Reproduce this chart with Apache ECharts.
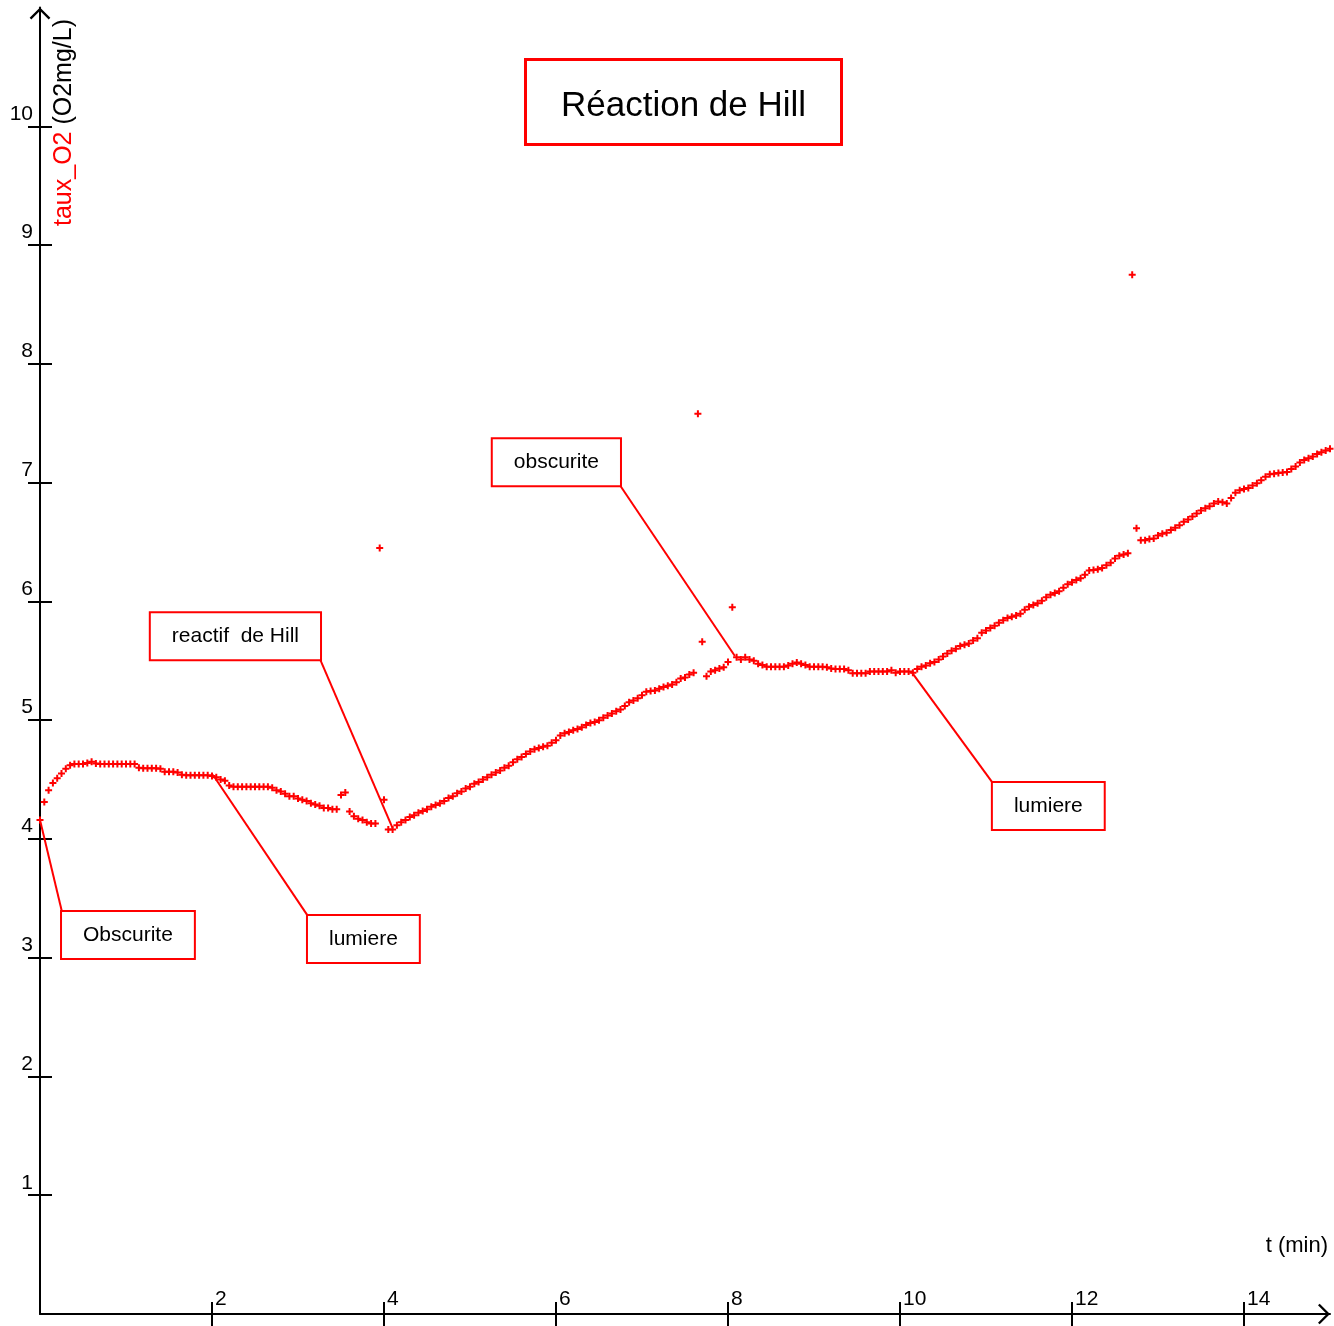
<!DOCTYPE html>
<html>
<head>
<meta charset="utf-8">
<title>Réaction de Hill</title>
<script src="https://cdn.jsdelivr.net/npm/echarts@6/dist/echarts.min.js"></script>
<style>
  html, body { margin: 0; padding: 0; background: #ffffff; }
  #chart { width: 1334px; height: 1326px; }
</style>
</head>
<body>
<div id="chart"></div>
<script>
// Oxygen probe record, one sample every 3 s (0.05 min), from t = 0 to t = 15 min
const sampleStart = 0;
const sampleStep = 0.05;

// O2 level in mg/L, one row per minute (20 samples each)
const tauxO2 = [
  4.16, 4.31, 4.41, 4.47, 4.51, 4.55, 4.59, 4.62, 4.63, 4.63, 4.63, 4.64, 4.65, 4.635, 4.63, 4.63, 4.63, 4.63, 4.63, 4.63,
  4.63, 4.63, 4.63, 4.60, 4.595, 4.595, 4.595, 4.595, 4.59, 4.565, 4.565, 4.565, 4.56, 4.54, 4.537, 4.537, 4.537, 4.537, 4.537, 4.537,
  4.53, 4.52, 4.50, 4.49, 4.45, 4.44, 4.44, 4.44, 4.44, 4.44, 4.44, 4.44, 4.44, 4.44, 4.43, 4.41, 4.40, 4.38, 4.36, 4.36,
  4.34, 4.33, 4.32, 4.30, 4.29, 4.28, 4.26, 4.26, 4.25, 4.25, 4.37, 4.39, 4.23, 4.19, 4.17, 4.16, 4.14, 4.13, 4.13, 6.45,
  4.33, 4.08, 4.08, 4.115, 4.14, 4.16, 4.185, 4.20, 4.22, 4.235, 4.25, 4.27, 4.285, 4.30, 4.32, 4.345, 4.36, 4.385, 4.40, 4.425,
  4.44, 4.465, 4.48, 4.50, 4.52, 4.54, 4.56, 4.575, 4.60, 4.615, 4.645, 4.67, 4.69, 4.715, 4.735, 4.755, 4.765, 4.775, 4.785, 4.81,
  4.83, 4.87, 4.89, 4.90, 4.915, 4.925, 4.94, 4.96, 4.975, 4.985, 5.00, 5.02, 5.04, 5.055, 5.075, 5.09, 5.12, 5.15, 5.165, 5.185,
  5.21, 5.24, 5.245, 5.25, 5.265, 5.28, 5.29, 5.30, 5.32, 5.35, 5.36, 5.385, 5.40, 7.58, 5.66, 5.37, 5.41, 5.42, 5.435, 5.445,
  5.49, 5.95, 5.53, 5.51, 5.53, 5.51, 5.50, 5.475, 5.465, 5.45, 5.45, 5.45, 5.45, 5.45, 5.46, 5.475, 5.485, 5.475, 5.465, 5.45,
  5.45, 5.45, 5.45, 5.445, 5.435, 5.43, 5.43, 5.43, 5.42, 5.395, 5.395, 5.395, 5.395, 5.41, 5.41, 5.41, 5.41, 5.41, 5.42, 5.40,
  5.41, 5.41, 5.41, 5.40, 5.43, 5.45, 5.46, 5.48, 5.49, 5.51, 5.535, 5.56, 5.585, 5.60, 5.625, 5.635, 5.645, 5.67, 5.69, 5.735,
  5.755, 5.775, 5.795, 5.82, 5.84, 5.86, 5.87, 5.88, 5.895, 5.93, 5.955, 5.97, 5.985, 6.005, 6.035, 6.055, 6.07, 6.085, 6.115, 6.145,
  6.16, 6.18, 6.195, 6.225, 6.26, 6.265, 6.27, 6.28, 6.305, 6.325, 6.36, 6.385, 6.395, 6.405, 8.75, 6.615, 6.515, 6.515, 6.525, 6.53,
  6.555, 6.57, 6.577, 6.60, 6.62, 6.64, 6.67, 6.69, 6.715, 6.74, 6.765, 6.785, 6.80, 6.825, 6.84, 6.835, 6.825, 6.87, 6.915, 6.935,
  6.945, 6.955, 6.975, 6.995, 7.02, 7.05, 7.07, 7.075, 7.08, 7.085, 7.09, 7.115, 7.135, 7.17, 7.19, 7.205, 7.22, 7.24, 7.255, 7.27,
  7.285
];

// Tick values on each axis
const xTickValues = [2, 4, 6, 8, 10, 12, 14];
const yTickValues = [1, 2, 3, 4, 5, 6, 7, 8, 9, 10];

// Annotations: caption, point it refers to, and the box corner the leader line reaches
const noteTexts = ['Obscurite', 'lumiere', 'reactif  de Hill', 'obscurite', 'lumiere'];
const noteTargets = [[0, 4.16], [2.01, 4.54], [4.10, 4.09], [8.08, 5.54], [10.14, 5.40]];
const noteCorners = [[0.256, 3.384], [3.116, 3.35], [3.256, 5.513], [6.744, 6.978], [11.08, 4.47]];
const noteCornerSide = ['topLeft', 'topLeft', 'bottomRight', 'bottomRight', 'topLeft'];

const FONT = '"Liberation Sans", Arial, Helvetica, sans-serif';
const RED = '#ff0000';

// open chevron used as axis arrow head (tip pointing up in symbol space)
const CHEVRON = 'path://M0,10 L10,0 L20,10 L18.4,11.6 L10,3.2 L1.6,11.6 Z';
// plus-sign marker for measurements
const PLUS = 'path://M2.5,0 L4.5,0 L4.5,2.5 L7,2.5 L7,4.5 L4.5,4.5 L4.5,7 L2.5,7 L2.5,4.5 L0,4.5 L0,2.5 L2.5,2.5 Z';

const points = tauxO2.map((v, i) => [+(sampleStart + i * sampleStep).toFixed(2), v]);

const noteLines = noteTargets.map((p, i) => [{ coord: p }, { coord: noteCorners[i] }]);
const noteBoxes = noteCorners.map((c, i) => ({
  value: c,
  label: {
    formatter: noteTexts[i],
    position: [0, 0],
    align: noteCornerSide[i] === 'topLeft' ? 'left' : 'right',
    verticalAlign: noteCornerSide[i] === 'topLeft' ? 'top' : 'bottom'
  }
}));

const axisLineStyle = { color: '#000', width: 2 };

const chart = echarts.init(document.getElementById('chart'), null, { renderer: 'canvas' });

chart.setOption({
  animation: false,
  backgroundColor: '#ffffff',
  textStyle: { fontFamily: FONT },
  title: {
    text: 'Réaction de Hill',
    left: 525,
    top: 59,
    padding: [28, 36, 20, 36],
    borderColor: RED,
    borderWidth: 3,
    textStyle: { fontFamily: FONT, fontSize: 35, fontWeight: 'normal', color: '#000', lineHeight: 38 }
  },
  grid: { left: 40, right: 4, top: 7.5, bottom: 12, containLabel: false },
  xAxis: [
    {
      type: 'value', min: 0, max: 15, position: 'bottom',
      axisLine: { show: true, onZero: false, lineStyle: axisLineStyle, symbol: ['none', CHEVRON], symbolSize: [22, 12], symbolOffset: [0, -6] },
      axisTick: { show: true, customValues: xTickValues, length: 12, lineStyle: axisLineStyle },
      axisLabel: { show: true, customValues: xTickValues, inside: true, margin: 4, align: 'left', verticalAlign: 'bottom', lineHeight: 21, padding: [0, 0, 0, 3], fontSize: 21, color: '#000', fontFamily: FONT },
      splitLine: { show: false }
    },
    {
      type: 'value', min: 0, max: 15, position: 'bottom',
      axisLine: { show: false, onZero: false },
      axisTick: { show: true, inside: true, customValues: xTickValues, length: 12, lineStyle: axisLineStyle },
      axisLabel: { show: false },
      splitLine: { show: false }
    }
  ],
  yAxis: [
    {
      type: 'value', min: 0, max: 11, position: 'left',
      axisLine: { show: true, onZero: false, lineStyle: axisLineStyle, symbol: ['none', CHEVRON], symbolSize: [22, 12], symbolOffset: [0, -6] },
      axisTick: { show: true, customValues: yTickValues, length: 12, lineStyle: axisLineStyle },
      axisLabel: { show: true, customValues: yTickValues, margin: 7, verticalAlign: 'bottom', lineHeight: 21, padding: [0, 0, 2, 0], fontSize: 21, color: '#000', fontFamily: FONT },
      splitLine: { show: false }
    },
    {
      type: 'value', min: 0, max: 11, position: 'left',
      axisLine: { show: false, onZero: false },
      axisTick: { show: true, inside: true, customValues: yTickValues, length: 12, lineStyle: axisLineStyle },
      axisLabel: { show: false },
      splitLine: { show: false }
    }
  ],
  graphic: [
    {
      type: 'text',
      x: 64,
      y: 19,
      rotation: Math.PI / 2,
      style: {
        text: '{r|taux_O2} (O2mg/L)',
        fill: '#000',
        fontSize: 25,
        fontFamily: FONT,
        align: 'right',
        verticalAlign: 'middle',
        rich: { r: { fill: RED, fontSize: 25, fontFamily: FONT } }
      }
    },
    {
      type: 'text',
      right: 6,
      top: 1235,
      style: { text: 't (min)', fill: '#000', fontSize: 22, fontFamily: FONT }
    }
  ],
  series: [
    {
      name: 'taux_O2',
      type: 'scatter',
      xAxisIndex: 0,
      yAxisIndex: 0,
      data: points,
      symbol: PLUS,
      symbolSize: 7,
      itemStyle: { color: RED, opacity: 1 },
      silent: true,
      z: 3,
      markLine: {
        silent: true,
        symbol: 'none',
        label: { show: false },
        lineStyle: { color: RED, width: 2, type: 'solid', opacity: 1 },
        emphasis: { disabled: true },
        data: noteLines
      }
    },
    {
      name: 'notes',
      type: 'scatter',
      xAxisIndex: 0,
      yAxisIndex: 0,
      data: noteBoxes,
      symbolSize: 0,
      silent: true,
      z: 5,
      itemStyle: { opacity: 1 },
      label: {
        show: true,
        color: '#000',
        fontSize: 21,
        fontFamily: FONT,
        lineHeight: 22,
        backgroundColor: '#ffffff',
        borderColor: RED,
        borderWidth: 2,
        padding: [12, 21]
      }
    }
  ]
});
</script>
</body>
</html>
